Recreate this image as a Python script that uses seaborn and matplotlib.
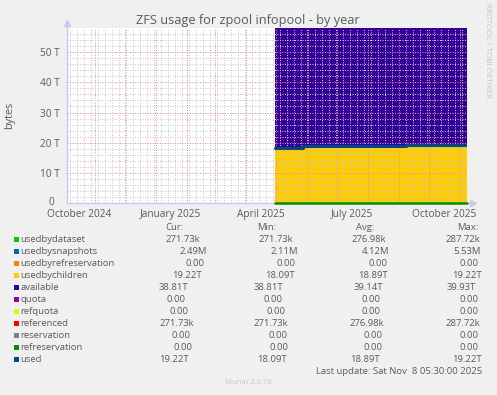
import matplotlib
matplotlib.use("Agg")
import matplotlib.pyplot as plt
import matplotlib.dates as mdates
import matplotlib.transforms as mtrans
from matplotlib.patches import Rectangle
import seaborn as sns
import pandas as pd
import numpy as np

# ---------------- data (values in T) ----------------
step_dates = ["2025-04-30 00:00", "2025-05-28 00:00", "2025-09-08 00:00", "2025-11-08 05:30"]
usedbychildren = [18.09, 18.91, 19.22, 19.22]
available = [39.93, 39.12, 38.81, 38.81]
used = [18.09, 18.91, 19.22, 19.22]
refreservation = [0.0, 0.0, 0.0, 0.0]

legend_names = ["usedbydataset", "usedbysnapshots", "usedbyrefreservation", "usedbychildren",
                "available", "quota", "refquota", "referenced", "reservation",
                "refreservation", "used"]
legend_colors = ["#00CC00", "#0066B3", "#FF8000", "#FFCC00", "#330099", "#990099",
                 "#CCFF00", "#FF0000", "#808080", "#008F00", "#00487D"]
cur_vals = ["271.73k", "2.49M", "0.00", "19.22T", "38.81T", "0.00", "0.00", "271.73k", "0.00", "0.00", "19.22T"]
min_vals = ["271.73k", "2.11M", "0.00", "18.09T", "38.81T", "0.00", "0.00", "271.73k", "0.00", "0.00", "18.09T"]
avg_vals = ["276.98k", "4.12M", "0.00", "18.89T", "39.14T", "0.00", "0.00", "276.98k", "0.00", "0.00", "18.89T"]
max_vals = ["287.72k", "5.53M", "0.00", "19.22T", "39.93T", "0.00", "0.00", "287.72k", "0.00", "0.00", "19.22T"]

y_ticks = [0, 10, 20, 30, 40, 50]
y_labels = ["0", "10 T", "20 T", "30 T", "40 T", "50 T"]
x_label_dates = ["2024-10-16", "2025-01-16", "2025-04-16", "2025-07-16", "2025-10-16"]
x_labels = ["October 2024", "January 2025", "April 2025", "July 2025", "October 2025"]

title = "ZFS usage for zpool infopool - by year"
last_update = "Last update: Sat Nov  8 05:30:00 2025"

# ---------------- layout ----------------
W, H = 497, 395
cur_x = [165, 179.3, 185.7, 171.7, 159, 166.7, 169.3, 159, 171.7, 174, 159]
min_x = [258.3, 270.7, 276.7, 265, 253.3, 264, 266.7, 253.3, 268.3, 269.3, 256.7]
avg_x = [351.7, 361.7, 368.3, 358.3, 353.3, 361.7, 361.7, 350, 363.3, 363.3, 350]
max_x = [445, 453.3, 459.3, 451.7, 446.7, 459.3, 459.3, 445, 459.3, 459.3, 451.7]

sns.set_theme(style="white")
FONT = ["Open Sans", "DejaVu Sans"]
plt.rcParams["font.family"] = FONT
TXT = "#5a5a5a"

fig = plt.figure(figsize=(W / 100, H / 100), dpi=100, facecolor="#f0f0f0")


def P(x, y):
    return x / W, 1 - y / H


ax = fig.add_axes([67 / W, 1 - 203 / H, 400 / W, 175 / H])
ax.set_facecolor("white")

df = pd.DataFrame({
    "date": pd.to_datetime(step_dates),
    "children": usedbychildren,
    "available": available,
    "used": used,
    "refres": refreservation,
})
df["top"] = df["children"] + df["available"]

ax.fill_between(df["date"], 0, df["children"], step="post", color="#FFCC00", lw=0, zorder=2)
ax.fill_between(df["date"], df["children"], df["top"], step="post", color="#330099", lw=0, zorder=2)
sns.lineplot(data=df, x="date", y="used", ax=ax, color="#00487D", lw=2.2,
             drawstyle="steps-post", zorder=4)
sns.lineplot(data=df, x="date", y="refres", ax=ax, color="#008F00", lw=1.8,
             drawstyle="steps-post", zorder=4, clip_on=False)

end = pd.Timestamp("2025-11-08 05:30")
start = end - pd.Timedelta(days=400)
ax.set_xlim(start, end)
ax.set_ylim(0, 58.03)

# grid
ax.set_yticks(y_ticks)
ax.set_yticklabels(y_labels)
ax.set_yticks(np.arange(0, 58, 2), minor=True)
ax.xaxis.set_major_locator(mdates.MonthLocator())
ax.xaxis.set_minor_locator(mdates.WeekdayLocator(byweekday=mdates.MO))
ax.grid(which="minor", color="#c8c8c8", lw=0.72, ls=(0, (1, 1.5)), zorder=5)
ax.grid(which="major", color="#f09090", lw=0.72, ls=(0, (1, 1.5)), zorder=6)
ax.set_axisbelow(False)
ax.set_xticklabels([])
ax.tick_params(axis="x", which="both", length=0)
ax.tick_params(axis="y", which="both", length=0, pad=5, labelsize=7.3, labelcolor=TXT)
for lbl in ax.get_yticklabels():
    lbl.set_fontfamily(FONT)
# the "0" label sits a little left and up, as in the reference
zero_lbl = ax.get_yticklabels()[0]
zero_lbl.set_transform(zero_lbl.get_transform() +
                       mtrans.ScaledTranslation(-6 / 100, 2 / 100, fig.dpi_scale_trans))

for d, t in zip(x_label_dates, x_labels):
    ax.text(pd.Timestamp(d), -0.035, t, transform=ax.get_xaxis_transform(), ha="center", va="top",
            fontsize=7.3, color=TXT, family=FONT)

for s in ["top", "right"]:
    ax.spines[s].set_visible(False)
for s in ["left", "bottom"]:
    ax.spines[s].set_color("#c8c8f4")
    ax.spines[s].set_linewidth(1.0)
ax.plot([0], [1.03], marker="^", color="#c8c8f4", ms=4, transform=ax.transAxes, clip_on=False)
ax.plot([0, 0], [1.0, 1.03], color="#c8c8f4", lw=1.0, transform=ax.transAxes, clip_on=False)
ax.plot([1.0, 1.015], [0, 0], color="#c8c8f4", lw=1.0, transform=ax.transAxes, clip_on=False)
ax.plot([1.015], [0], marker=">", color="#c8c8f4", ms=4, transform=ax.transAxes, clip_on=False)

ax.set_xlabel("")
ax.set_ylabel("")

# texts
fig.text(*P(248, 20.5), title, ha="center", va="center", fontsize=9.2, color=TXT, family=FONT)
fig.text(*P(10, 115), "bytes", ha="center", va="center", rotation=90, fontsize=7.8, color=TXT, family=FONT)
fig.text(*P(488, 51), "RRDTOOL / TOBI OETIKER", ha="center", va="center", rotation=270,
         fontsize=5.8, color="#c4c4c4", family=FONT)

fs = 6.8
fig.text(*P(165, 227.7), "Cur:", ha="left", va="center", fontsize=fs, color=TXT, family=FONT)
fig.text(*P(256.7, 227.7), "Min:", ha="left", va="center", fontsize=fs, color=TXT, family=FONT)
fig.text(*P(356, 227.7), "Avg:", ha="left", va="center", fontsize=fs, color=TXT, family=FONT)
fig.text(*P(457.3, 227.7), "Max:", ha="left", va="center", fontsize=fs, color=TXT, family=FONT)

for i, name in enumerate(legend_names):
    y = 239.3 + 12 * i
    x0, y0 = P(14, y + 2.5)
    fig.add_artist(Rectangle((x0, y0), 5 / W, 5 / H, transform=fig.transFigure,
                             facecolor=legend_colors[i], edgecolor="none"))
    fig.text(*P(20.5, y), name, ha="left", va="center", fontsize=fs, color=TXT, family=FONT)
    fig.text(*P(cur_x[i], y), cur_vals[i], ha="left", va="center", fontsize=fs, color=TXT, family=FONT)
    fig.text(*P(min_x[i], y), min_vals[i], ha="left", va="center", fontsize=fs, color=TXT, family=FONT)
    fig.text(*P(avg_x[i], y), avg_vals[i], ha="left", va="center", fontsize=fs, color=TXT, family=FONT)
    fig.text(*P(max_x[i], y), max_vals[i], ha="left", va="center", fontsize=fs, color=TXT, family=FONT)

fig.text(*P(482.5, 371), last_update, ha="right", va="center", fontsize=fs, color=TXT, family=FONT)
fig.text(*P(248, 382.7), "Munin 2.0.76", ha="center", va="center", fontsize=5.6, color="#c8c8c8", family=FONT)

fig.savefig("out.png", dpi=100, facecolor=fig.get_facecolor())
